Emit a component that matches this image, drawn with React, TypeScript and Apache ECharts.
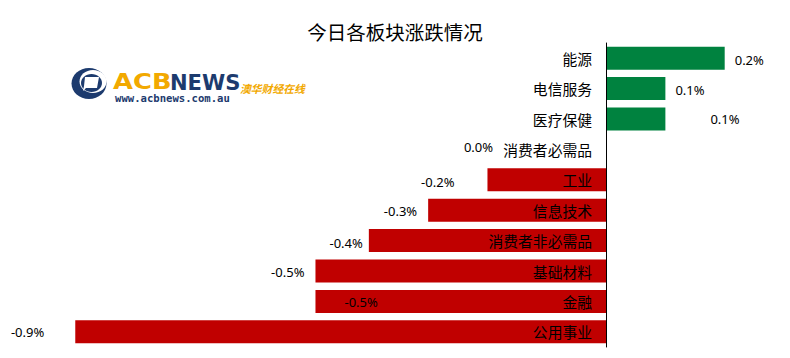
import React, { useEffect, useRef } from "react";
import * as echarts from "echarts";

const categories = ["能源", "电信服务", "医疗保健", "消费者必需品", "工业", "信息技术", "消费者非必需品", "基础材料", "金融", "公用事业"];
const values = [0.2, 0.1, 0.1, 0.0, -0.2, -0.3, -0.4, -0.49, -0.49, -0.895];
const labelPositions = ["right", "right", "right", "left", "left", "left", "left", "left", "insideLeft", "left"];
const labelDistances = [10, 10, 45, 113, 33, 11, 6, 11, 29, 31];
const labelDy = [1.5, 1, 0, -2, 2, 1, 2.5, 1, 1, 0];

const CJK = '"Noto Sans CJK SC", "Noto Sans", sans-serif';

const X_MIN = -1.0;
const X_MAX = 0.3;
const GRID_LEFT = 13;
const GRID_RIGHT = 6;

export default function App() {
  const ref = useRef<HTMLDivElement>(null);
  useEffect(() => {
    if (!ref.current) return;
    const chart = echarts.init(ref.current, null, { renderer: "svg" });
    const plotW = 790 - GRID_LEFT - GRID_RIGHT;
    const zeroOffset = (-X_MIN / (X_MAX - X_MIN)) * plotW;
    const data = values.map((v, i) => ({
      value: v,
      itemStyle: { color: v >= 0 ? "#00823F" : "#C00000" },
      label: {
        show: true,
        position: labelPositions[i],
        distance: labelDistances[i],
        offset: [0, labelDy[i]],
      },
    }));
    chart.setOption({
      animation: false,
      title: {
        text: "今日各板块涨跌情况",
        left: "center",
        top: 17,
        textStyle: { fontFamily: CJK, fontSize: 19.5, fontWeight: "normal", color: "#000" },
      },
      grid: { left: GRID_LEFT, right: GRID_RIGHT, top: 43, bottom: 11, containLabel: false, outerBoundsMode: "none" },
      xAxis: {
        type: "value",
        min: X_MIN,
        max: X_MAX,
        show: false,
        splitLine: { show: false },
      },
      yAxis: {
        type: "category",
        data: categories,
        inverse: true,
        position: "left",
        offset: -zeroOffset,
        z: 10,
        axisLine: { show: true, onZero: false, lineStyle: { color: "#000", width: 1 } },
        axisTick: { show: false },
        axisLabel: { interval: 0, margin: 14, fontSize: 14.8, color: "#000", fontFamily: CJK },
      },
      series: [
        {
          type: "bar",
          data,
          barWidth: 23,
          label: {
            show: true,
            fontSize: 13,
            color: "#000",
            fontFamily: '"Noto Sans", sans-serif',
            formatter: (p: any) => (p.value as number).toFixed(1) + "%",
          },
        },
      ],
      graphic: [
        { type: "ellipse", shape: { cx: 89, cy: 83.5, rx: 17.5, ry: 15.5 }, style: { fill: "#1D3B6E" } },
        { type: "ellipse", shape: { cx: 93, cy: 81.5, rx: 13.5, ry: 11.5 }, style: { fill: "#ffffff" } },
        { type: "ellipse", shape: { cx: 91.5, cy: 83, rx: 10.5, ry: 9 }, style: { fill: "#1D3B6E" } },
        { type: "polygon", shape: { points: [[85, 77], [99, 77], [97, 88], [86, 88], [83, 91], [84, 86]] }, style: { fill: "#ffffff" } },
        {
          type: "text",
          x: 113,
          y: 93,
          scaleX: 1.2,
          style: { text: "ACB", fill: "#F2A900", font: '900 21.5px "DejaVu Sans", "Liberation Sans", sans-serif', textVerticalAlign: "bottom" },
        },
        {
          type: "text",
          x: 170,
          y: 93,
          scaleX: 0.98,
          style: { text: "NEWS", fill: "#1D3B6E", font: '900 21.5px "DejaVu Sans", "Liberation Sans", sans-serif', textVerticalAlign: "bottom" },
        },
        {
          type: "text",
          x: 115,
          y: 97.5,
          style: { text: "www.acbnews.com.au", fill: "#1D3B6E", font: 'bold 10.6px "DejaVu Sans Mono", monospace', textVerticalAlign: "middle" },
        },
        {
          type: "text",
          x: 240,
          y: 88,
          style: { text: "澳华财经在线", fill: "#F2A900", font: 'italic bold 10.8px "Noto Sans CJK SC", sans-serif', textVerticalAlign: "middle" },
        },
      ],
    });
    return () => chart.dispose();
  }, []);
  return <div ref={ref} style={{ position: "fixed", left: 0, top: 0, width: 790, height: 358, background: "#fff" }} />;
}
